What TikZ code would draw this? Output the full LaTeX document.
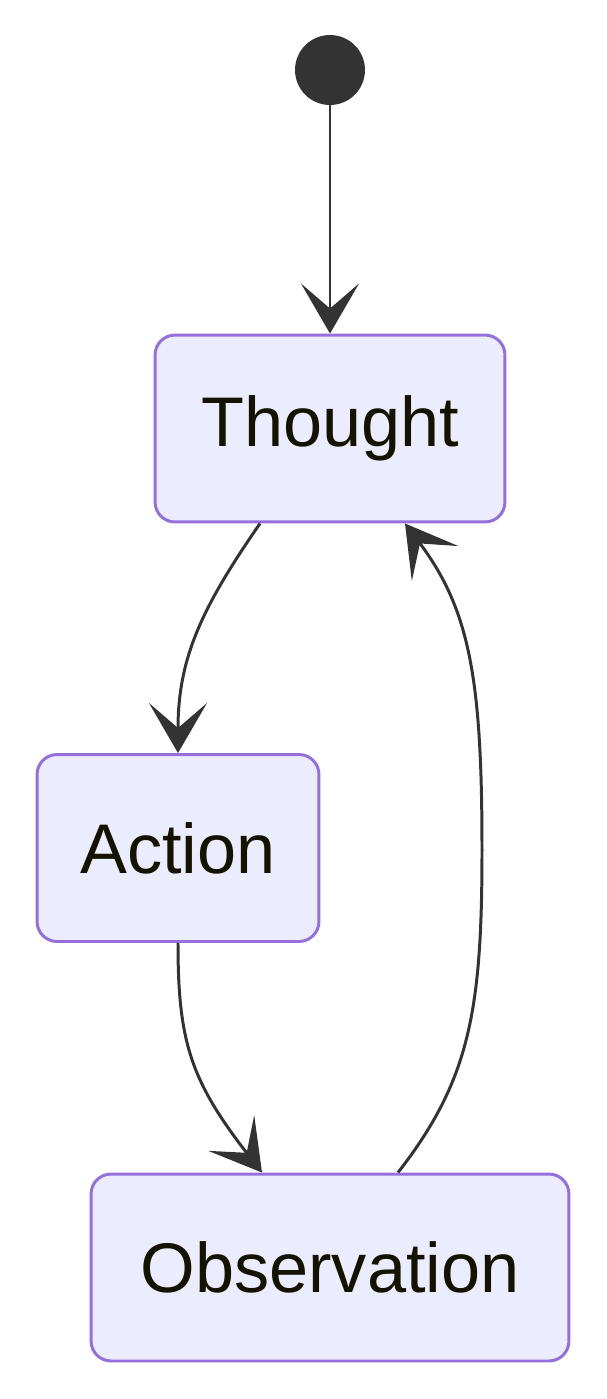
\documentclass[tikz,border=0pt]{standalone}
\usepackage{fontspec}
\setmainfont{Liberation Sans}
\usetikzlibrary{arrows.meta,positioning}
\definecolor{stfill}{HTML}{ECECFF}
\definecolor{stdraw}{HTML}{9370DB}
\definecolor{sttext}{HTML}{131300}
\definecolor{edge}{HTML}{333333}
\tikzset{
  state/.style={draw=stdraw, line width=1.7pt, fill=stfill, rounded corners=0.4cm,
    minimum height=3.74cm, text=sttext, font=\fontsize{40}{48}\selectfont},
  flow/.style={draw=edge, line width=1.7pt,
    -{Stealth[length=1cm, width=1.16cm, inset=0.5cm]}}
}
\begin{document}
\begin{tikzpicture}[x=0.02cm, y=-0.02cm]
  \useasboundingbox (0,0) rectangle (606,1399);
  % start
  \node[circle, fill=edge, minimum size=1.4cm, inner sep=0pt] (start) at (330,70) {};
  % states
  \node[state, minimum width=7cm] (thought) at (330,428.5) {Thought};
  \node[state, minimum width=5.64cm] (action) at (178,848) {Action};
  \node[state, minimum width=9.56cm] (obs) at (330,1267.5) {Observation};
  \coordinate (back) at (482,850);
  % transitions
  \draw[flow] (start) -- (thought);
  \draw[flow] ([xshift=-1.4cm]thought.south) .. controls (200,610) and (178,660) .. (action.north);
  \draw[flow] (action.south) .. controls (178,1040) and (190,1080) .. ([xshift=-1.36cm]obs.north);
  \draw[flow] ([xshift=1.36cm]obs.north) .. controls (470,1080) and (482,1010) .. (back)
    .. controls (482,680) and (470,610) .. ([xshift=1.5cm]thought.south);
\end{tikzpicture}
\end{document}
